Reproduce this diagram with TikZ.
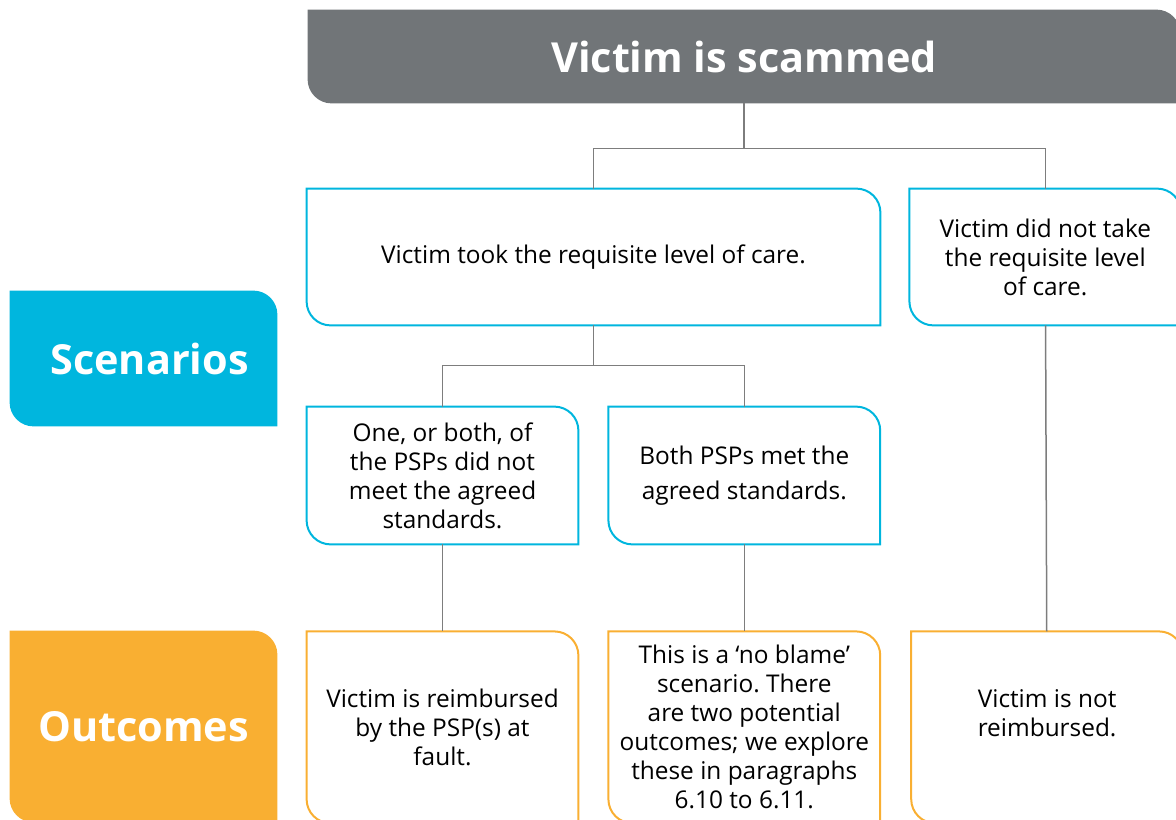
\documentclass[tikz,border=0pt]{standalone}
\usepackage{fontspec}
\setmainfont{Open Sans}
\frenchspacing
\usetikzlibrary{positioning,backgrounds}
\definecolor{headgrey}{HTML}{717578}
\definecolor{scenblue}{HTML}{00B6DE}
\definecolor{outorange}{HTML}{F9AF32}
\definecolor{linkgrey}{HTML}{7D7D7D}

% box with the top right and bottom left corners rounded
\newcommand{\card}[2]{%
  \path[#2] (#1.north west) -- ([xshift=-12pt]#1.north east)
    arc[start angle=90,end angle=0,radius=12pt] -- (#1.south east)
    -- ([xshift=12pt]#1.south west)
    arc[start angle=270,end angle=180,radius=12pt] -- cycle;}

\begin{document}
\begin{tikzpicture}[x=0.5pt,y=-0.5pt,
  box/.style={inner sep=0pt,align=center,font=\fontsize{12.2}{14.5}\selectfont},
  tag/.style={inner sep=0pt,text=white,font=\fontsize{20.7}{25}\selectfont\bfseries},
  link/.style={linkgrey,line width=0.75pt}]
  \useasboundingbox (0,0) rectangle (1176,819);
  \node[tag,minimum width=436pt,minimum height=46.5pt] (head) at (744,56.5) {Victim is scammed};
  \node[box,minimum width=286.5pt,minimum height=68pt] (care) at (593.5,257)
    {Victim took the requisite level of care.};
  \node[box,minimum width=135.5pt,minimum height=68pt,right=14.5pt of care] (nocare)
    {Victim did not take\\the requisite level\\of care.};
  \node[box,minimum width=135.5pt,minimum height=68.5pt] (fail) at (442.5,475.5)
    {One, or both, of\\the PSPs did not\\meet the agreed\\standards.};
  \node[box,minimum width=135.5pt,minimum height=68.5pt,right=15pt of fail] (met)
    {Both PSPs met the\\[3pt]agreed standards.};
  \node[box,minimum width=135.5pt,minimum height=95.5pt,below=43.5pt of fail] (paid)
    {Victim is reimbursed\\by the PSP(s) at\\fault.};
  \node[box,minimum width=135.5pt,minimum height=95.5pt,below=43.5pt of met] (noblame)
    {This is a `no blame'\\scenario. There\\are two potential\\outcomes; we explore\\these in paragraphs\\6.10 to 6.11.};
  \node[box,minimum width=135.5pt,minimum height=95.5pt,right=15.5pt of noblame] (unpaid)
    {Victim is not\\reimbursed.\\\mbox{}};
  \node[tag,minimum width=133.5pt,minimum height=67.5pt] (scen) at (143.5,358.5) {\hspace*{6pt}Scenarios};
  \node[tag,minimum width=133.5pt,minimum height=95.5pt] (outc) at (143.5,726.5) {Outcomes};

  \begin{scope}[on background layer]
    \card{head}{fill=headgrey}
    \card{scen}{fill=scenblue}
    \card{outc}{fill=outorange}
  \end{scope}
  \foreach \n in {care,nocare,fail,met}
    \card{\n}{draw=scenblue,line width=1pt};
  \foreach \n in {paid,noblame,unpaid}
    \card{\n}{draw=outorange,line width=1pt};

  \draw[link] (head.south) -- ++(0,45) -| (care.north);
  \draw[link] (head.south) -- ++(0,45) -| (nocare.north);
  \draw[link] (care.south) -- ++(0,40) -| (fail.north);
  \draw[link] (care.south) -- ++(0,40) -| (met.north);
  \draw[link] (fail) -- (paid);
  \draw[link] (met) -- (noblame);
  \draw[link] (nocare) -- (unpaid);
\end{tikzpicture}
\end{document}
